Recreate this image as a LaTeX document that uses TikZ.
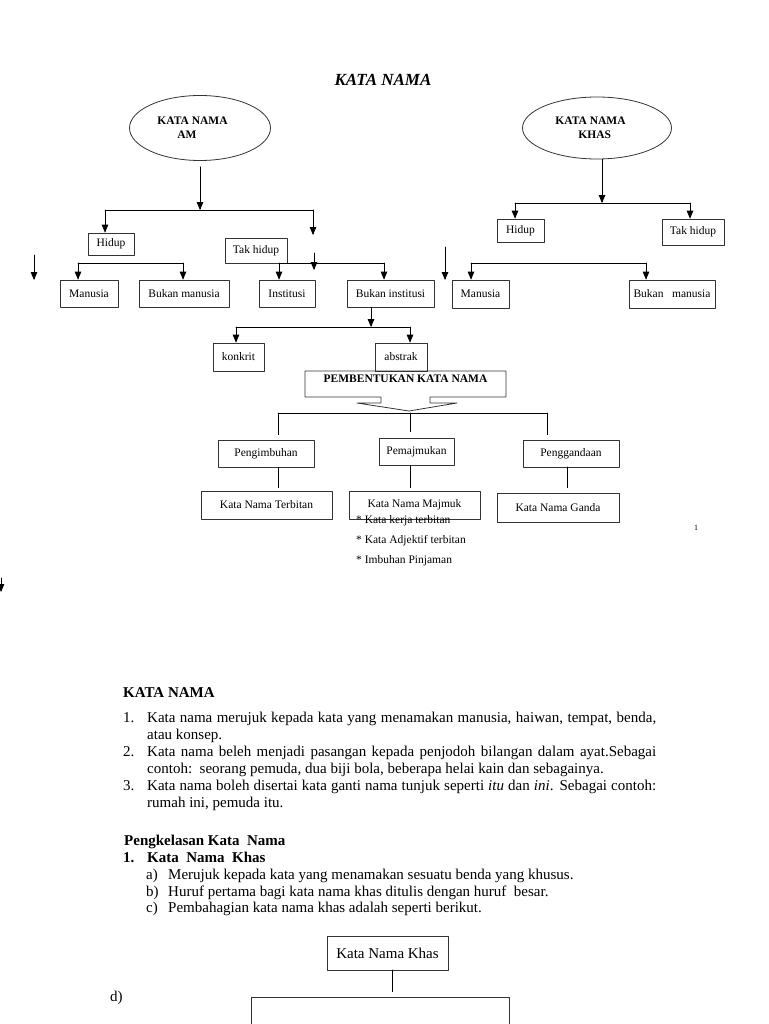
\documentclass[tikz,border=0pt]{standalone}
\usepackage{fontspec}
\setmainfont{Liberation Serif}
\usetikzlibrary{arrows}
\usetikzlibrary{shapes.geometric}

\begin{document}
\begin{tikzpicture}[line cap=round,line join=round,>=triangle 45,x=1pt,y=-1pt,
    box/.style={rectangle, draw=black!80, line width=0.8pt, inner sep=0pt, font=\fontsize{11.5}{13}\selectfont},
    oval/.style={ellipse, draw=black!80, line width=0.8pt, inner sep=0pt, align=left, font=\bfseries\fontsize{11.5}{14}\selectfont},
    link/.style={line width=0.8pt},
    txt/.style={inner sep=0pt, anchor=base west, font=\fontsize{15}{17}\selectfont},
    boldtxt/.style={txt, font=\bfseries\fontsize{15}{17}\selectfont},
    note/.style={inner sep=0pt, anchor=base west, font=\fontsize{11.5}{13}\selectfont}]

    \useasboundingbox (0,0) rectangle (768,1024);
    \clip (0,0) rectangle (768,1024);

    \node[font=\bfseries\itshape\fontsize{17}{19}\selectfont] (title) at (383,80) {KATA NAMA};

    % kata nama am
    \node[oval, minimum width=141pt, minimum height=65pt] (amE) at (200,128) {KATA NAMA\hspace*{15pt}\\\hspace*{20pt}AM};
    \node[box, minimum width=46pt, minimum height=22pt] (hidupL) at (111,244) {Hidup};
    \node[box, minimum width=62pt, minimum height=25pt] (takL) at (256,250.5) {Tak hidup};
    \node[box, minimum width=58pt, minimum height=27pt] (manL) at (89,293.5) {Manusia};
    \node[box, minimum width=90pt, minimum height=27pt] (bmanL) at (184,293.5) {Bukan manusia};
    \node[box, minimum width=56pt, minimum height=27pt] (instN) at (287,293.5) {Institusi};
    \node[box, minimum width=87pt, minimum height=27pt] (binstN) at (390.5,293.5) {Bukan institusi};

    \coordinate (amJ) at (200,210);
    \coordinate (amJl) at (105,210);
    \coordinate (amJr) at (313,210);
    \coordinate (amEnd) at (313,235);
    \draw[link,->,shorten <=6pt] (amE.south) -- (amJ);
    \draw[link] (amJl) -- (amJr);
    \draw[link,->] (amJl) -- (amJl |- hidupL.north);
    \draw[link,->] (amJr) -- (amEnd);

    \coordinate (hlJl) at (78,263);
    \coordinate (hlJr) at (183,263);
    \draw[link] (hlJl) -- (hlJr);
    \draw[link,->] (hlJl) -- (hlJl |- manL.north);
    \draw[link,->] (hlJr) -- (hlJr |- bmanL.north);

    \coordinate (thJl) at (279,263);
    \coordinate (thJr) at (384,263);
    \draw[link] (thJl) -- (thJr);
    \draw[link,->] (thJl) -- (thJl |- instN.north);
    \draw[link,->] (thJr) -- (thJr |- binstN.north);

    % loose arrows
    \coordinate (s1a) at (34,255);   \coordinate (s1b) at (34,280);
    \coordinate (s2a) at (314,253);  \coordinate (s2b) at (314,270);
    \coordinate (s3a) at (445,247);  \coordinate (s3b) at (445,280);
    \coordinate (s4a) at (1,578);    \coordinate (s4b) at (1,592);
    \foreach \p in {s1,s2,s3,s4}
        \draw[link,->] (\p a) -- (\p b);

    % kata nama khas
    \node[oval, minimum width=149pt, minimum height=62pt] (khasE) at (597,128) {KATA NAMA\hspace*{13pt}\\\hspace*{23pt}KHAS};
    \node[box, minimum width=47pt, minimum height=23pt] (hidupR) at (520.5,230.5) {Hidup};
    \node[box, minimum width=62pt, minimum height=26pt] (takR) at (693,232) {Tak hidup};
    \node[box, minimum width=57pt, minimum height=28pt] (manR) at (480.5,294) {Manusia};
    \node[box, minimum width=86pt, minimum height=28pt] (bmanR) at (672,294) {Bukan\ \ \ manusia};

    \coordinate (khJ) at (602,203);
    \coordinate (khJl) at (515,203);
    \coordinate (khJr) at (690,203);
    \draw[link,->] (khasE.south -| khJ) -- (khJ);
    \draw[link] (khJl) -- (khJr);
    \draw[link,->] (khJl) -- (khJl |- hidupR.north);
    \draw[link,->] (khJr) -- (khJr |- takR.north);

    \coordinate (hrJl) at (471,263);
    \coordinate (hrJr) at (646,263);
    \draw[link] (hrJl) -- (hrJr);
    \draw[link,->] (hrJl) -- (hrJl |- manR.north);
    \draw[link,->] (hrJr) -- (hrJr |- bmanR.north);

    % bukan institusi
    \node[box, minimum width=51pt, minimum height=28pt] (konkritN) at (238.5,357) {konkrit};
    \node[box, minimum width=52pt, minimum height=28pt] (abstrakN) at (401,357) {abstrak};
    \coordinate (biJ) at (371,327);
    \coordinate (biJl) at (236,327);
    \coordinate (biJr) at (410,327);
    \draw[link,->] (binstN.south -| biJ) -- (biJ);
    \draw[link] (biJl) -- (biJr);
    \draw[link,->] (biJl) -- (biJl |- konkritN.north);
    \draw[link,->] (biJr) -- (biJr |- abstrakN.north);

    % pembentukan
    \node[inner sep=0pt, font=\bfseries\fontsize{11.5}{13}\selectfont] (pembN) at (405.5,379) {PEMBENTUKAN KATA NAMA};
    \draw[link, draw=black!80] (305,371) -- (506,371) -- (506,397) -- (430,397) -- (430,403) -- (457,403)
        -- (409,411) -- (357,403) -- (381,403) -- (381,397) -- (305,397) -- cycle;

    \node[box, minimum width=96pt, minimum height=27pt] (imbuhN) at (266,453.5) {Pengimbuhan};
    \node[box, minimum width=75pt, minimum height=27pt] (majmukN) at (416.5,451.5) {Pemajmukan};
    \node[box, minimum width=96pt, minimum height=27pt] (gandaN) at (571,453.5) {Penggandaan};
    \node[box, minimum width=131pt, minimum height=28pt] (terbitanT) at (266.5,505) {Kata Nama Terbitan};
    \node[box, minimum width=131pt, minimum height=28pt] (majmukT) at (414.5,505) {Kata Nama Majmuk};
    \node[box, minimum width=122pt, minimum height=29pt] (gandaT) at (558,507.5) {Kata Nama Ganda};

    \coordinate (pbL) at (278,413);
    \coordinate (pbM) at (410,413);
    \coordinate (pbR) at (547,413);
    \coordinate (gdX) at (567,467);
    \draw[link] (pbL) -- (pbR);
    \draw[link,shorten >=5pt] (pbL) -- (pbL |- imbuhN.north);
    \draw[link,shorten >=6pt] (pbM) -- (pbM |- majmukN.north);
    \draw[link,shorten >=5pt] (pbR) -- (pbR |- gandaN.north);
    \draw[link,shorten >=3pt] (imbuhN.south -| pbL) -- (pbL |- terbitanT.north);
    \draw[link,shorten >=3pt] (majmukN.south -| pbM) -- (pbM |- majmukT.north);
    \draw[link,shorten >=5pt] (gdX) -- (gdX |- gandaT.north);

    \node[note] (itemA) at (356,523.5) {* Kata kerja terbitan};
    \node[note] (itemB) at (356,543.5) {* Kata Adjektif terbitan};
    \node[note] (itemC) at (356,563.5) {* Imbuhan Pinjaman};
    \node[font=\fontsize{8}{9}\selectfont] (pageNo) at (696,528) {1};

    % teks
    \node[boldtxt] (headN) at (123,697) {KATA NAMA};
    \node[txt] (num1) at (123,722) {1.};
    \node[txt, text width=509pt, align=justify] (para1) at (147,722)
        {Kata nama merujuk kepada kata yang menamakan manusia, haiwan, tempat, benda,\linebreak atau konsep.};
    \node[txt] (num2) at (123,756) {2.};
    \node[txt, text width=509pt, align=justify] (para2) at (147,756)
        {Kata nama beleh menjadi pasangan kepada penjodoh bilangan dalam ayat.Sebagai\linebreak contoh:\ \ seorang pemuda, dua biji bola, beberapa helai kain dan sebagainya.};
    \node[txt] (num3) at (123,790) {3.};
    \node[txt, text width=509pt, align=justify] (para3) at (147,790)
        {Kata nama boleh disertai kata ganti nama tunjuk seperti \textit{itu} dan \textit{ini}. Sebagai contoh:\linebreak rumah ini, pemuda itu.};

    \node[boldtxt] (klsN) at (124,845) {Pengkelasan Kata\ \ Nama};
    \node[boldtxt] (khNum) at (123,862) {1.};
    \node[boldtxt] (khHead) at (147,862) {Kata\ \ Nama\ \ Khas};
    \node[txt] (ptA) at (146,879) {a)};
    \node[txt] (ptAt) at (168,879) {Merujuk kepada kata yang menamakan sesuatu benda yang khusus.};
    \node[txt] (ptB) at (146,896) {b)};
    \node[txt] (ptBt) at (168,896) {Huruf pertama bagi kata nama khas ditulis dengan huruf\ \ besar.};
    \node[txt] (ptC) at (146,912) {c)};
    \node[txt] (ptCt) at (168,912) {Pembahagian kata nama khas adalah seperti berikut.};

    \node[box, font=\fontsize{15}{17}\selectfont, minimum width=121pt, minimum height=34pt] (khasBox) at (387.5,953) {Kata Nama Khas};
    \node[box, minimum width=258pt, minimum height=90pt] (bigBox) at (380,1042) {};
    \coordinate (kbX) at (392,970);
    \draw[link,shorten >=5pt] (kbX) -- (kbX |- bigBox.north);
    \node[txt] (dN) at (110,1001) {d)};
\end{tikzpicture}
\end{document}
